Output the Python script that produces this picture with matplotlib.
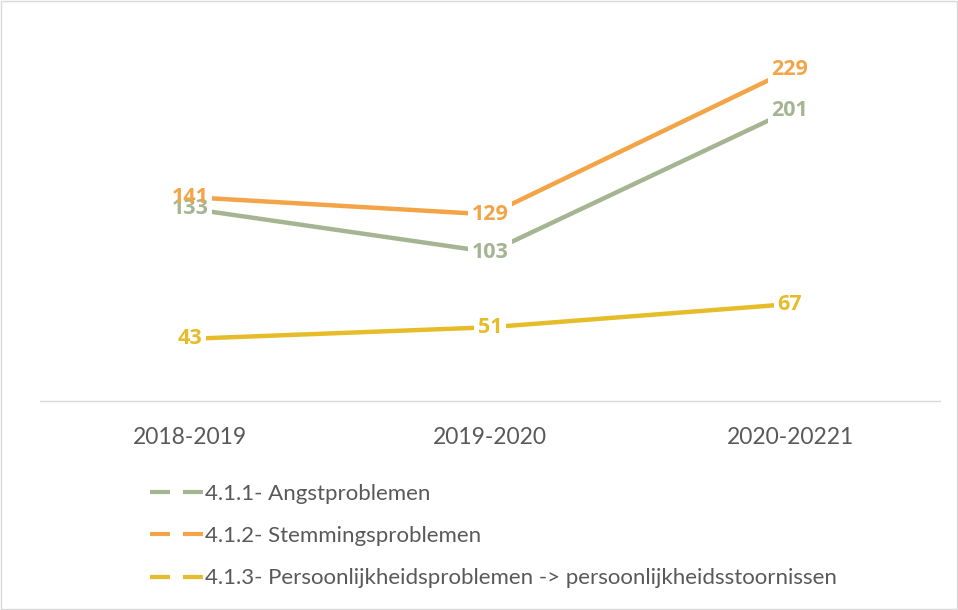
import matplotlib.pyplot as plt
from matplotlib.lines import Line2D
from matplotlib.patches import Rectangle

# chart data
years = ["2018-2019", "2019-2020", "2020-20221"]
angst = [133, 103, 201]
stemming = [141, 129, 229]
persoonlijkheid = [43, 51, 67]
series_names = ["4.1.1- Angstproblemen",
                "4.1.2- Stemmingsproblemen",
                "4.1.3- Persoonlijkheidsproblemen -> persoonlijkheidsstoornissen"]
colors = ["#A5B592", "#F3A447", "#E7BC29"]

plt.rcParams["font.family"] = ["Lato", "DejaVu Sans"]
label_font = ["Open Sans", "DejaVu Sans"]

fig = plt.figure(figsize=(9.58, 6.10), dpi=100)
ax = fig.add_axes([40 / 958, 209 / 610, 900 / 958, 361.5 / 610])

x = list(range(len(years)))
all_series = [angst, stemming, persoonlijkheid]

for vals, col in zip(all_series, colors):
    ax.plot(x, vals, color=col, linewidth=3.2, solid_capstyle="butt", zorder=2)

# white boxes behind the labels so the lines get cut like in excel
for vals in all_series:
    for xi, v in zip(x, vals):
        ax.text(xi, v, str(v), ha="center", va="center", fontsize=15.5,
                family=label_font, fontweight="bold", color="none", zorder=3,
                bbox=dict(facecolor="white", edgecolor="none", pad=2.5))
for vals, col in zip(all_series, colors):
    for xi, v in zip(x, vals):
        ax.text(xi, v, str(v), ha="center", va="center", fontsize=15.5,
                family=label_font, fontweight="bold", color=col, zorder=4)

ax.set_xlim(-0.5, len(years) - 0.5)
ax.set_ylim(0, 250)
ax.set_xticks(x)
ax.set_xticklabels(years, fontsize=16.5, color="#595959")
ax.tick_params(axis="x", length=0, pad=18.5)
ax.set_yticks([])
for s in ["top", "left", "right"]:
    ax.spines[s].set_visible(False)
ax.spines["bottom"].set_color("#D9D9D9")
ax.spines["bottom"].set_linewidth(1)

# legend below the chart
handles = [Line2D([0], [0], color=c, linewidth=3, linestyle=(0, (4.8, 3.1)))
           for c in colors]
fig.legend(handles, series_names, loc="upper left",
           bbox_to_anchor=(130 / 958, 1 - 464 / 610), frameon=False,
           fontsize=16, labelcolor="#595959", handlelength=2.47,
           handletextpad=0.0, labelspacing=1.0)

# light border around the whole picture
fig.add_artist(Rectangle((0.001, 0.001), 0.998, 0.998, transform=fig.transFigure,
                         fill=False, edgecolor="#D9D9D9", linewidth=1))

plt.savefig("out.png", dpi=100)
